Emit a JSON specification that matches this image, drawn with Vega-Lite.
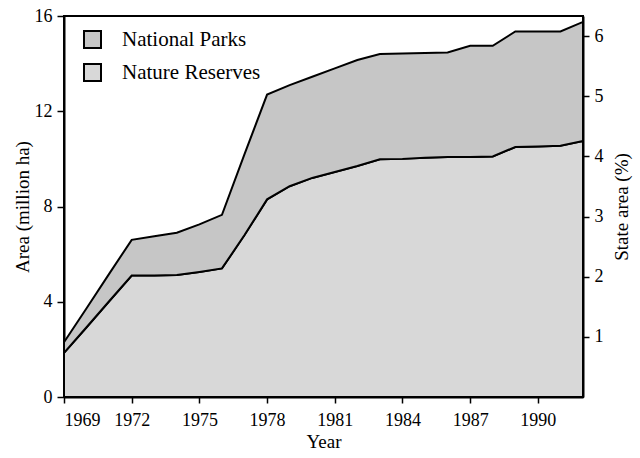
{
  "$schema": "https://vega.github.io/schema/vega-lite/v6.json",
  "width": 519,
  "height": 381,
  "autosize": {"type": "none"},
  "padding": {"left": 64, "top": 16, "right": 57, "bottom": 61},
  "background": "white",
  "config": {
    "font": "Liberation Serif",
    "view": {"stroke": "black", "strokeWidth": 2},
    "axis": {
      "labelFont": "Liberation Serif",
      "titleFont": "Liberation Serif",
      "labelFontSize": 18,
      "titleFontSize": 19,
      "titleFontWeight": "normal",
      "labelColor": "black",
      "titleColor": "black",
      "domainColor": "black",
      "domainWidth": 2,
      "tickColor": "black",
      "tickWidth": 1.5,
      "tickSize": 7,
      "grid": false
    },
    "legend": {
      "labelFont": "Liberation Serif",
      "labelFontSize": 21,
      "labelColor": "black"
    }
  },
  "data": {
    "values": [
      {"year": 1969, "type": "Nature Reserves", "area": 1.85, "rank": 1},
      {"year": 1970, "type": "Nature Reserves", "area": 2.93, "rank": 1},
      {"year": 1971, "type": "Nature Reserves", "area": 4.02, "rank": 1},
      {"year": 1972, "type": "Nature Reserves", "area": 5.1, "rank": 1},
      {"year": 1973, "type": "Nature Reserves", "area": 5.1, "rank": 1},
      {"year": 1974, "type": "Nature Reserves", "area": 5.12, "rank": 1},
      {"year": 1975, "type": "Nature Reserves", "area": 5.25, "rank": 1},
      {"year": 1976, "type": "Nature Reserves", "area": 5.4, "rank": 1},
      {"year": 1977, "type": "Nature Reserves", "area": 6.8, "rank": 1},
      {"year": 1978, "type": "Nature Reserves", "area": 8.3, "rank": 1},
      {"year": 1979, "type": "Nature Reserves", "area": 8.85, "rank": 1},
      {"year": 1980, "type": "Nature Reserves", "area": 9.2, "rank": 1},
      {"year": 1981, "type": "Nature Reserves", "area": 9.45, "rank": 1},
      {"year": 1982, "type": "Nature Reserves", "area": 9.7, "rank": 1},
      {"year": 1983, "type": "Nature Reserves", "area": 9.98, "rank": 1},
      {"year": 1984, "type": "Nature Reserves", "area": 10.0, "rank": 1},
      {"year": 1985, "type": "Nature Reserves", "area": 10.05, "rank": 1},
      {"year": 1986, "type": "Nature Reserves", "area": 10.08, "rank": 1},
      {"year": 1987, "type": "Nature Reserves", "area": 10.08, "rank": 1},
      {"year": 1988, "type": "Nature Reserves", "area": 10.1, "rank": 1},
      {"year": 1989, "type": "Nature Reserves", "area": 10.5, "rank": 1},
      {"year": 1990, "type": "Nature Reserves", "area": 10.52, "rank": 1},
      {"year": 1991, "type": "Nature Reserves", "area": 10.55, "rank": 1},
      {"year": 1992, "type": "Nature Reserves", "area": 10.75, "rank": 1},
      {"year": 1969, "type": "National Parks", "area": 0.45, "rank": 2},
      {"year": 1970, "type": "National Parks", "area": 0.8, "rank": 2},
      {"year": 1971, "type": "National Parks", "area": 1.15, "rank": 2},
      {"year": 1972, "type": "National Parks", "area": 1.5, "rank": 2},
      {"year": 1973, "type": "National Parks", "area": 1.65, "rank": 2},
      {"year": 1974, "type": "National Parks", "area": 1.78, "rank": 2},
      {"year": 1975, "type": "National Parks", "area": 2.0, "rank": 2},
      {"year": 1976, "type": "National Parks", "area": 2.25, "rank": 2},
      {"year": 1977, "type": "National Parks", "area": 3.4, "rank": 2},
      {"year": 1978, "type": "National Parks", "area": 4.4, "rank": 2},
      {"year": 1979, "type": "National Parks", "area": 4.25, "rank": 2},
      {"year": 1980, "type": "National Parks", "area": 4.25, "rank": 2},
      {"year": 1981, "type": "National Parks", "area": 4.35, "rank": 2},
      {"year": 1982, "type": "National Parks", "area": 4.45, "rank": 2},
      {"year": 1983, "type": "National Parks", "area": 4.42, "rank": 2},
      {"year": 1984, "type": "National Parks", "area": 4.42, "rank": 2},
      {"year": 1985, "type": "National Parks", "area": 4.4, "rank": 2},
      {"year": 1986, "type": "National Parks", "area": 4.39, "rank": 2},
      {"year": 1987, "type": "National Parks", "area": 4.67, "rank": 2},
      {"year": 1988, "type": "National Parks", "area": 4.65, "rank": 2},
      {"year": 1989, "type": "National Parks", "area": 4.85, "rank": 2},
      {"year": 1990, "type": "National Parks", "area": 4.83, "rank": 2},
      {"year": 1991, "type": "National Parks", "area": 4.8, "rank": 2},
      {"year": 1992, "type": "National Parks", "area": 5.0, "rank": 2}
    ]
  },
  "layer": [
    {
      "mark": {"type": "area", "stroke": "black", "strokeWidth": 2, "strokeJoin": "miter", "opacity": 1, "fillOpacity": 1},
      "encoding": {
        "x": {
          "field": "year",
          "type": "quantitative",
          "scale": {"domain": [1969, 1992], "nice": false, "zero": false},
          "axis": {"values": [1969, 1972, 1975, 1978, 1981, 1984, 1987, 1990], "format": "d", "title": "Year", "tickSize": 6, "labelPadding": 8, "titlePadding": 3}
        },
        "y": {
          "field": "area",
          "type": "quantitative",
          "stack": "zero",
          "scale": {"domain": [0, 16], "nice": false},
          "axis": {"values": [0, 4, 8, 12, 16], "title": "Area (million ha)", "labelPadding": 5, "titlePadding": 2}
        },
        "order": {"field": "rank", "type": "quantitative"},
        "color": {
          "field": "type",
          "type": "nominal",
          "scale": {"domain": ["National Parks", "Nature Reserves"], "range": ["#c6c6c6", "#d8d8d8"]},
          "legend": {
            "title": null,
            "orient": "none",
            "legendX": 18,
            "legendY": 13,
            "symbolType": "square",
            "symbolSize": 289,
            "symbolStrokeColor": "black",
            "symbolStrokeWidth": 2,
            "symbolOpacity": 1,
            "labelOffset": 19,
            "rowPadding": 8
          }
        }
      }
    },
    {
      "mark": {"type": "point", "opacity": 0},
      "encoding": {
        "x": {"field": "year", "type": "quantitative"},
        "y": {
          "datum": 0,
          "type": "quantitative",
          "scale": {"domain": [0, 6.335], "nice": false},
          "axis": {"orient": "right", "values": [1, 2, 3, 4, 5, 6], "title": "State area (%)", "titleAngle": 270, "titleBaseline": "top", "tickSize": 6, "labelPadding": 5, "titlePadding": 9}
        }
      }
    }
  ],
  "resolve": {"scale": {"y": "independent"}}
}
